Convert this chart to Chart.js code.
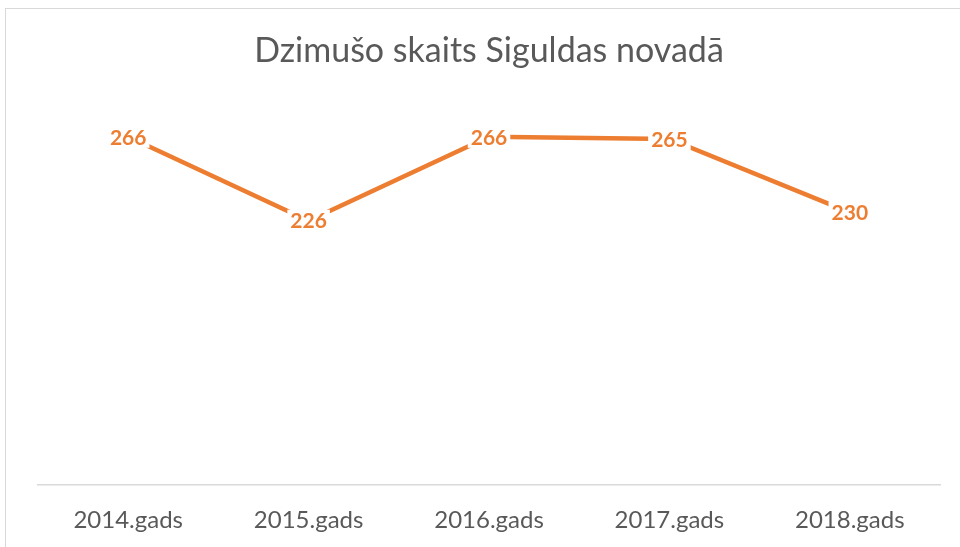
<!DOCTYPE html>
<html>
<head>
<meta charset="utf-8">
<script src="https://cdn.jsdelivr.net/npm/chart.js@4"></script>
<style>
  html, body { margin: 0; padding: 0; background: #fff; }
  #wrap { position: relative; width: 960px; height: 547px; overflow: hidden; }
  #frame { position: absolute; left: 5px; top: 8px; width: 1000px; height: 600px; border: 1.5px solid #d9d9d9; box-sizing: border-box; }
  canvas { position: absolute; left: 0; top: 0; }
</style>
</head>
<body>
<div id="wrap">
  <div id="frame"></div>
  <canvas id="myChart" width="960" height="547"></canvas>
</div>
<script>
// Data
const years = ['2014.gads', '2015.gads', '2016.gads', '2017.gads', '2018.gads'];
const births = [266, 226, 266, 265, 230];

const orange = '#ED7D31';
const grey = '#595959';

// Draw value labels on top of the line with a white box behind them
const valueLabels = {
    id: 'valueLabels',
    afterDatasetsDraw(chart) {
        const ctx = chart.ctx;
        const meta = chart.getDatasetMeta(0);
        ctx.save();
        ctx.font = 'bold 21px Lato';
        ctx.textAlign = 'center';
        ctx.textBaseline = 'middle';
        meta.data.forEach((pt, i) => {
            const text = String(births[i]);
            const w = ctx.measureText(text).width;
            ctx.fillStyle = '#fff';
            ctx.fillRect(pt.x - w / 2 - 3, pt.y - 11, w + 6, 22);
            ctx.fillStyle = orange;
            ctx.fillText(text, pt.x, pt.y + 1);
        });
        ctx.restore();
    }
};

const ctx = document.getElementById('myChart').getContext('2d');

new Chart(ctx, {
    type: 'line',
    data: {
        labels: years,
        datasets: [{
            label: 'Dzimušo skaits',
            data: births,
            borderColor: orange,
            borderWidth: 4.5,
            pointRadius: 0,
            tension: 0,
            fill: false
        }]
    },
    options: {
        responsive: false,
        animation: false,
        layout: {
            padding: { left: 38, right: 20, top: 0, bottom: 15 }
        },
        scales: {
            x: {
                offset: true,
                grid: { display: false, drawTicks: false },
                border: { display: true, color: '#d9d9d9', width: 1.5 },
                ticks: {
                    color: grey,
                    font: { family: 'Lato', size: 24 },
                    padding: 21
                },
                afterFit(scale) {
                    scale.height = 47;
                }
            },
            y: {
                display: false,
                min: 100,
                max: 297
            }
        },
        plugins: {
            legend: { display: false },
            tooltip: { enabled: false },
            title: {
                display: true,
                text: 'Dzimušo skaits Siguldas novadā',
                color: grey,
                font: { family: 'Lato', size: 34, weight: 'normal' },
                padding: { top: 31, bottom: 0 }
            }
        }
    },
    plugins: [valueLabels]
});
</script>
</body>
</html>
